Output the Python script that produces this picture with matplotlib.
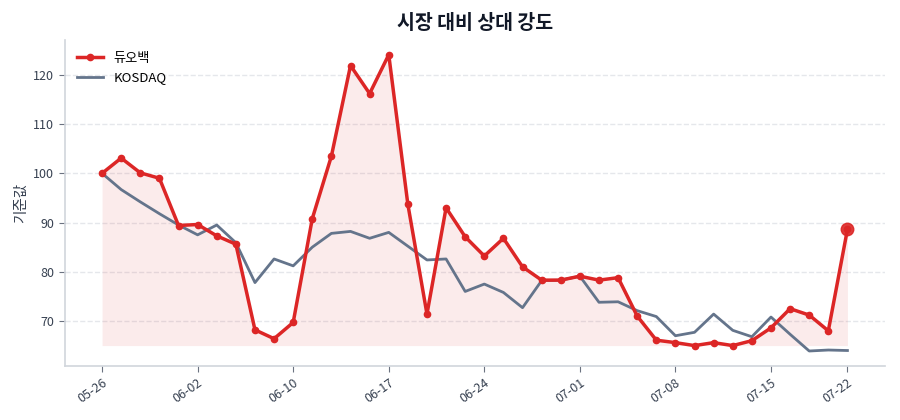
import numpy as np
import matplotlib
matplotlib.use("Agg")
import matplotlib.pyplot as plt

plt.rcParams['font.family'] = ['Noto Sans CJK KR', 'DejaVu Sans']

# 40 trading days, ticks every 5 days plus the last one
tick_labels = ['05-26', '06-02', '06-10', '06-17', '06-24', '07-01', '07-08', '07-15', '07-22']
tick_index = [0, 5, 10, 15, 20, 25, 30, 35, 39]

duo = [100.0, 103.1, 100.1, 99.0, 89.4, 89.6, 87.3, 85.6, 68.2, 66.4,
       69.7, 90.8, 103.5, 121.9, 116.2, 124.1, 93.7, 71.4, 93.0, 87.1,
       83.2, 86.8, 81.0, 78.3, 78.3, 79.1, 78.3, 78.8, 71.0, 66.1,
       65.6, 65.0, 65.6, 65.0, 66.0, 68.6, 72.5, 71.2, 68.0, 88.6]
kosdaq = [100.0, 96.7, 94.2, 91.8, 89.5, 87.5, 89.5, 85.9, 77.8, 82.6,
          81.2, 85.0, 87.8, 88.2, 86.8, 88.0, 85.2, 82.4, 82.6, 76.0,
          77.5, 75.8, 72.7, 78.2, 78.3, 79.1, 73.8, 73.9, 72.1, 70.9,
          67.0, 67.7, 71.4, 68.1, 66.8, 70.8, 67.3, 63.9, 64.1, 64.0]

red = '#dc2626'
slate = '#64748b'

x = np.arange(len(duo))
duo = np.array(duo)

fig = plt.figure(figsize=(9, 4.2), dpi=100)
ax = fig.add_axes([0.072, 0.129, 0.911, 0.776])

ax.fill_between(x, duo, duo.min(), color=red, alpha=0.09, linewidth=0)
h_k, = ax.plot(x, kosdaq, color=slate, linewidth=2, label='KOSDAQ', zorder=2)
h_d, = ax.plot(x, duo, color=red, linewidth=2.5, marker='o', markersize=4.5, label='듀오백', zorder=3)
ax.plot(x[-1], duo[-1], 'o', color=red, markersize=9, alpha=0.9, zorder=4)

ax.set_xticks(tick_index)
ax.set_xticklabels(tick_labels, rotation=35, ha='right', rotation_mode='anchor')
ax.set_yticks([70, 80, 90, 100, 110, 120])

ax.grid(axis='y', linestyle='--', color='#e5e7eb', linewidth=1)
ax.set_axisbelow(True)
for s in ['top', 'right']:
    ax.spines[s].set_visible(False)
for s in ['left', 'bottom']:
    ax.spines[s].set_color('#d1d5db')
    ax.spines[s].set_linewidth(1.2)
ax.tick_params(colors='#6b7280', labelcolor='#374151', labelsize=9, length=4)

ax.set_ylabel('기준값', fontsize=10.5, color='#374151')
ax.set_title('시장 대비 상대 강도', fontsize=14, fontweight='bold', color='#111827', pad=8)
ax.legend(handles=[h_d, h_k], loc='upper left', frameon=False, fontsize=9.5)

fig.savefig('out.png', dpi=100)
